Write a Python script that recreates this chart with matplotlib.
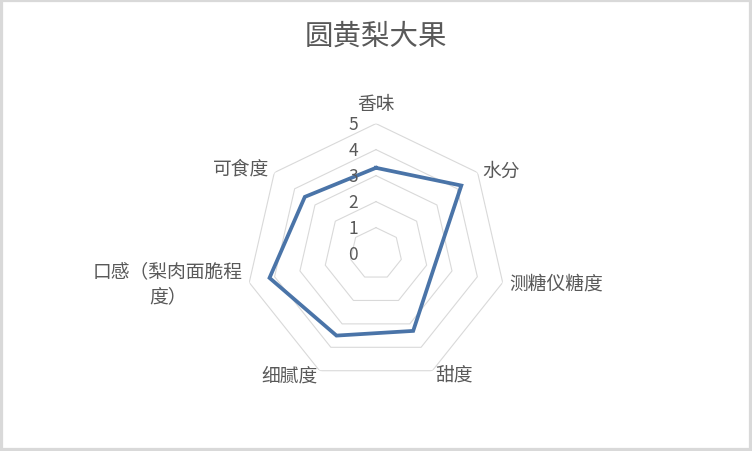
import numpy as np
import matplotlib
matplotlib.use("Agg")
import matplotlib.pyplot as plt
from matplotlib.patches import Rectangle

plt.rcParams['font.family'] = ['Noto Sans CJK SC', 'DejaVu Sans']
plt.rcParams['font.weight'] = 'light'

title = "圆黄梨大果"
categories = ["香味", "水分", "测糖仪糖度", "甜度", "细腻度", "口感（梨肉面脆程\n度）", "可食度"]
values = [3.3, 4.2, 2.3, 3.3, 3.5, 4.2, 3.5]
rings = [1, 2, 3, 4, 5]
tick_labels = ["0", "1", "2", "3", "4", "5"]

text_color = "#595959"
grid_color = "#d9d9d9"
line_color = "#4a74a8"

n = len(categories)
theta = np.arange(n) * 2 * np.pi / n
theta_closed = np.append(theta, theta[0])

fig = plt.figure(figsize=(7.52, 4.52), dpi=100)
fig.patch.set_facecolor("white")

ax = fig.add_axes([0.3271, 0.1491, 0.3457, 0.5752], projection="polar")
ax.set_theta_offset(np.pi / 2)
ax.set_theta_direction(-1)
ax.set_ylim(0, 5)
ax.grid(False)
ax.spines["polar"].set_visible(False)
ax.set_xticks([])
ax.set_yticks([])
ax.patch.set_alpha(0)

# heptagon rings
for r in rings:
    ax.plot(theta_closed, [r] * (n + 1), color=grid_color, lw=0.8, zorder=1)

# data line
vals_closed = values + values[:1]
ax.plot(theta_closed, vals_closed, color=line_color, lw=2.7, zorder=3,
        solid_joinstyle="miter")

# radial value labels
for i, lab in enumerate(tick_labels):
    ax.annotate(lab, xy=(0, i), xytext=(-13, 0), textcoords="offset points",
                ha="right", va="center", fontsize=12.5, color=text_color,
                fontweight="light")

# category labels (offsets in points from outer vertex)
offsets = [(0, 14.5, "center"), (3.5, 1.5, "left"), (4.5, -0.5, "left"),
           (2, -3, "left"), (-1.5, -3, "right"), (-4.5, -0.5, "right"),
           (-4, 3, "right")]
for t, lab, (dx, dy, ha) in zip(theta, categories, offsets):
    ax.annotate(lab, xy=(t, 5), xytext=(dx, dy), textcoords="offset points",
                ha=ha, va="center", fontsize=13.5, color=text_color,
                multialignment="center", linespacing=1.25, fontweight="light")

fig.text(0.5, 1 - 37 / 452, title, ha="center", va="center",
         fontsize=20.5, color=text_color, fontweight="light")

fig.patches.append(Rectangle((0, 0), 1, 1, transform=fig.transFigure,
                             fill=False, ec=grid_color, lw=4.5))

plt.savefig("out.png", dpi=100)
